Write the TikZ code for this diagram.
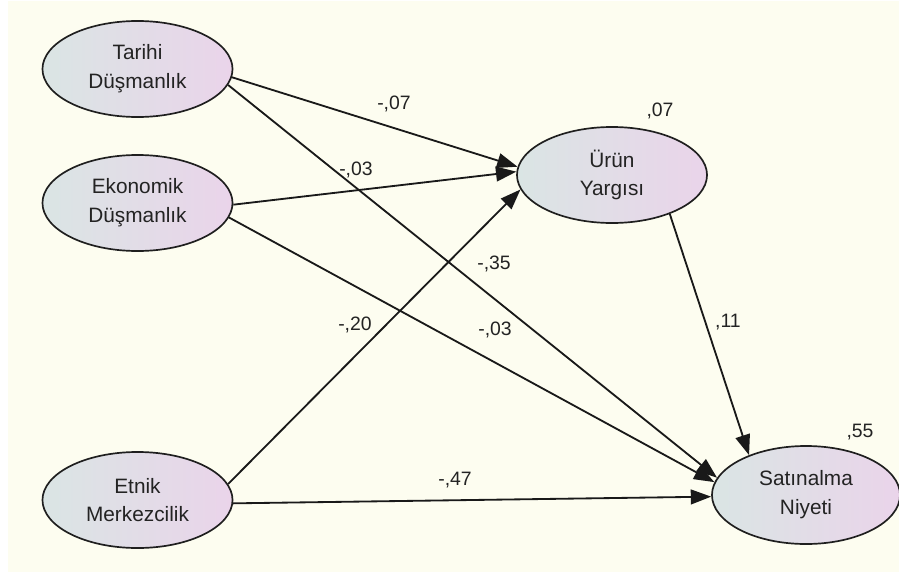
\documentclass[tikz,border=0pt]{standalone}
\usepackage{fontspec}
\setmainfont{Liberation Sans}
\usetikzlibrary{shapes.geometric,arrows.meta}

\definecolor{paper}{RGB}{253,253,240}
\definecolor{fillL}{RGB}{218,229,228}
\definecolor{fillR}{RGB}{234,212,234}
\definecolor{ink}{RGB}{35,35,35}

\begin{document}
\begin{tikzpicture}[x=0.025cm,y=-0.025cm,
  latent/.style={ellipse,draw=black!88,line width=1.2pt,
    left color=fillL,right color=fillR,
    minimum width=4.75cm,minimum height=2.4cm,inner sep=0pt,
    align=center,text=ink,font=\fontsize{14.8}{20.5}\selectfont},
  path/.style={line width=1.3pt,draw=black!90,-{Triangle[length=14.5pt,width=10.5pt]}},
  coef/.style={text=ink,inner sep=0pt,font=\fontsize{13.8}{16}\selectfont}]

% canvas
\useasboundingbox (0,0) rectangle (899,572);
\fill[paper] (8,1) rectangle (899,572);

% exogenous factors
\node[latent] (tarihi)   at (137.5,69)  {Tarihi\\Düşmanlık};
\node[latent] (ekonomik) at (137.5,203) {Ekonomik\\Düşmanlık};
\node[latent] (etnik)    at (137.5,500) {Etnik\\Merkezcilik};

% endogenous factors
\node[latent] (urun)  at (612,175) {Ürün\\Yargısı};
\node[latent,minimum width=4.7cm,minimum height=2.45cm] (niyet) at (806,495) {Satınalma\\Niyeti};

% paths into Ürün Yargısı
\draw[path] (tarihi.-5)   -- (urun.175);
\draw[path] (ekonomik.-1) -- (urun.178);
\draw[path] (etnik.10)    -- (urun.189);

% paths into Satınalma Niyeti
\draw[path] (tarihi.-10)  -- (niyet.169);
\draw[path] (ekonomik.-9) -- (niyet.172);
\draw[path] (etnik.-2)    -- (niyet.181);
\draw[path] (urun.-34)    -- (niyet.145);

% path coefficients
\node[coef] (c1) at (394,104) {-,07};
\node[coef] (c2) at (356,170) {-,03};
\node[coef] (c3) at (494,264) {-,35};
\node[coef] (c4) at (355,325) {-,20};
\node[coef] (c5) at (495,330) {-,03};
\node[coef] (c6) at (455,480) {-,47};
\node[coef] (c7) at (728,322) {,11};

% explained variance
\node[coef] (r1) at (660,111) {,07};
\node[coef] (r2) at (860,432) {,55};
\end{tikzpicture}
\end{document}
